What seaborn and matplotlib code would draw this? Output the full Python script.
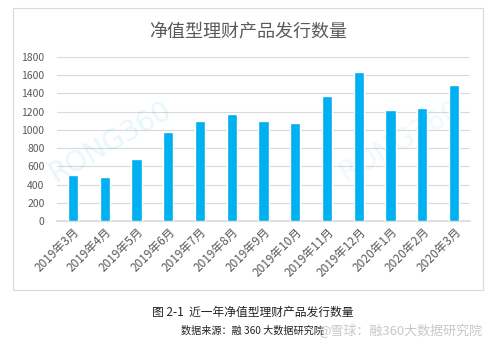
import matplotlib
matplotlib.use("Agg")
import matplotlib.pyplot as plt
import seaborn as sns
import pandas as pd
import numpy as np
from matplotlib.patches import Rectangle

months = ["2019年3月", "2019年4月", "2019年5月", "2019年6月", "2019年7月", "2019年8月",
          "2019年9月", "2019年10月", "2019年11月", "2019年12月", "2020年1月", "2020年2月", "2020年3月"]
counts = [510, 480, 685, 975, 1103, 1177, 1103, 1081, 1375, 1631, 1220, 1243, 1492]
yticks = [0, 200, 400, 600, 800, 1000, 1200, 1400, 1600, 1800]

sns.set_theme(style="white")
plt.rcParams['font.family'] = ['Noto Sans CJK SC', 'DejaVu Sans']

df = pd.DataFrame({"month": months, "count": counts})

fig = plt.figure(figsize=(4.94, 3.5), dpi=100)
W, H = 494, 350
ax = fig.add_axes([57 / W, 1 - 221 / H, (470 - 57) / W, (221 - 57) / H])

# chart border
fig.patches.append(Rectangle((13 / W, 1 - 290 / H), (483 - 13) / W, (290 - 8) / H,
                             transform=fig.transFigure, fill=False, edgecolor="#d9d9d9", lw=0.8))

sns.barplot(data=df, x="month", y="count", color="#00B0F0", width=0.32, ax=ax,
            saturation=1, zorder=3)

ax.set_ylim(0, 1800)
ax.set_yticks(yticks)
ax.set_yticklabels([str(v) for v in yticks], fontsize=7.5, color="#595959")
ax.set_xlim(-0.5, len(months) - 0.5)
ax.set_xticks(range(len(months)))
ax.set_xticklabels(months, rotation=45, ha="right", rotation_mode="anchor",
                   fontsize=8.5, color="#595959")
ax.set_xlabel("")
ax.set_ylabel("")
ax.grid(axis="y", color="#d9d9d9", lw=0.8, zorder=0)
for s in ["top", "right", "left"]:
    ax.spines[s].set_visible(False)
ax.spines["bottom"].set_color("#d9d9d9")
ax.tick_params(axis="x", length=0, pad=3)
ax.tick_params(axis="y", length=0, pad=9)
ax.set_xticks(np.arange(-0.5, len(months), 1), minor=True)
ax.tick_params(axis="x", which="minor", length=4, color="#d9d9d9", width=0.8)

# watermarks
ax.text(0.13, 0.48, "RONG360", transform=ax.transAxes, fontsize=20, color="#00B0F0",
        alpha=0.10, rotation=30, ha="center", va="center", family="DejaVu Sans")
ax.text(0.83, 0.49, "RONG360", transform=ax.transAxes, fontsize=20, color="#00B0F0",
        alpha=0.07, rotation=30, ha="center", va="center", family="DejaVu Sans")

fig.text(248 / W, 1 - 32 / H, "净值型理财产品发行数量", ha="center", va="center",
         fontsize=13, color="#595959")
fig.text(253 / W, 1 - 312 / H, "图 2-1  近一年净值型理财产品发行数量", ha="center", va="center",
         fontsize=8.5, color="#222222")
fig.text(181 / W, 1 - 331 / H, "数据来源：融 360 大数据研究院", ha="left", va="center",
         fontsize=7.3, color="#222222")
fig.text(318 / W, 1 - 331 / H, "@雪球：融360大数据研究院", ha="left", va="center",
         fontsize=9.4, color="#c8c8c8", zorder=5)

fig.savefig("out.png", dpi=100)
